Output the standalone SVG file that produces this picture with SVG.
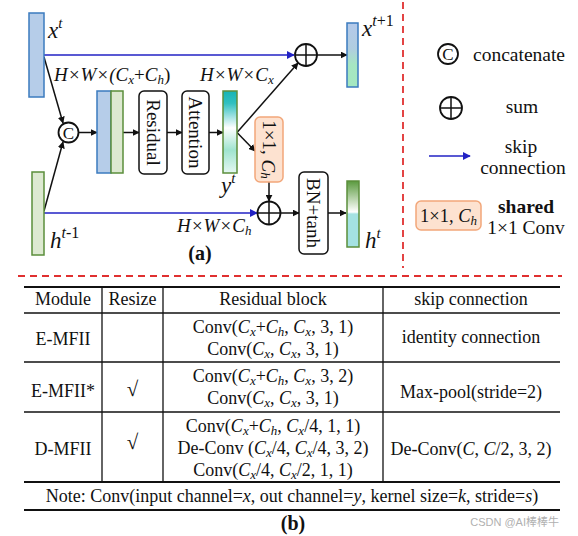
<svg xmlns="http://www.w3.org/2000/svg" width="578" height="536" viewBox="0 0 578 536" font-family="'Liberation Serif', 'DejaVu Serif', serif">
<style>
text{font-family:'Liberation Serif','DejaVu Serif',serif;fill:#111}
.i{font-style:italic}
.b{font-weight:bold}
.lab{font-size:23px;font-style:italic}
.dim{font-size:19px}
.box{font-size:19px}
.tb{font-size:18px}
.sub{font-size:13px}
.bluebar{fill:#b6cde9;stroke:#3b7bbf;stroke-width:1.5}
.greenbar{fill:#dde9d1;stroke:#5b8e3b;stroke-width:1.5}
.rbox{fill:#fff;stroke:#111;stroke-width:1.5}
.obox{fill:#fde2d0;stroke:#f2a77a;stroke-width:1.5}
.circ{fill:#fff;stroke:#111;stroke-width:1.8}
.ar{stroke:#111;stroke-width:1.5;fill:none;marker-end:url(#ah)}
.sk{stroke:#2222c4;stroke-width:1.5;fill:none;marker-end:url(#ahb)}
.red{stroke:#e03030;stroke-width:1.8;stroke-dasharray:7 5;fill:none}
.tl{stroke:#111;stroke-width:1.3;fill:none}
.tk{stroke:#111;stroke-width:2;fill:none}
</style>
<defs>
<marker id="ah" viewBox="0 0 10 10" refX="9" refY="5" markerWidth="7" markerHeight="7" markerUnits="userSpaceOnUse" orient="auto"><path d="M0,0L10,5L0,10z" fill="#111"/></marker>
<marker id="ahb" viewBox="0 0 10 10" refX="9" refY="5" markerWidth="8" markerHeight="8" markerUnits="userSpaceOnUse" orient="auto"><path d="M0,0L10,5L0,10z" fill="#2222c4"/></marker>
<linearGradient id="gy" x1="0" y1="0" x2="0" y2="1">
<stop offset="0" stop-color="#14b4b4"/><stop offset="0.15" stop-color="#30c0c0"/><stop offset="0.45" stop-color="#ffffff"/><stop offset="0.72" stop-color="#9fe4cf"/><stop offset="1" stop-color="#e4f7f2"/>
</linearGradient>
<linearGradient id="gx1" x1="0" y1="0" x2="0" y2="1">
<stop offset="0" stop-color="#b4c9ea"/><stop offset="0.4" stop-color="#b0cde0"/><stop offset="0.65" stop-color="#a6e6c2"/><stop offset="1" stop-color="#a4e8c0"/>
</linearGradient>
<linearGradient id="gh" x1="0" y1="0" x2="0" y2="1">
<stop offset="0" stop-color="#5a9a3e"/><stop offset="0.47" stop-color="#ffffff"/><stop offset="0.5" stop-color="#a4e2e2"/><stop offset="1" stop-color="#a4e2e2"/>
</linearGradient>
</defs>

<g id="connectors">
<line class="sk" x1="44" y1="55" x2="294" y2="55"/>
<line class="sk" x1="44" y1="213" x2="257" y2="213"/>
<line class="ar" x1="44" y1="57" x2="63" y2="123"/>
<line class="ar" x1="44" y1="211" x2="63" y2="142"/>
<line class="ar" x1="79" y1="132.5" x2="97" y2="132.5"/>
<line class="ar" x1="123" y1="132.5" x2="139" y2="132.5"/>
<line class="ar" x1="167" y1="132.5" x2="182" y2="132.5"/>
<line class="ar" x1="209" y1="132.5" x2="223" y2="132.5"/>
<line class="ar" x1="237" y1="132.5" x2="298" y2="63"/>
<line class="ar" x1="237" y1="132.5" x2="255" y2="151"/>
<line class="ar" x1="269" y1="182" x2="269" y2="201"/>
<line class="ar" x1="281" y1="213" x2="299" y2="213"/>
<line class="ar" x1="328" y1="213" x2="346" y2="213"/>
<line class="ar" x1="317" y1="55" x2="347" y2="55"/>
</g>

<g id="xt"><rect class="bluebar" x="29" y="13" width="15" height="84"/>
<text class="lab" x="48" y="38">x<tspan font-size="15" dy="-10">t</tspan></text></g>
<g id="ht1"><rect class="greenbar" x="32" y="172" width="12" height="83"/>
<text class="lab" x="50" y="248">h<tspan font-size="16" dy="-10">t</tspan><tspan font-size="16" font-style="normal">-1</tspan></text></g>
<g id="dims">
<text class="dim i" x="54" y="81">H×W×(C<tspan class="sub" dy="3">x</tspan><tspan dy="-3" font-style="normal">+</tspan>C<tspan class="sub" dy="3">h</tspan><tspan dy="-3" font-style="normal">)</tspan></text>
<text class="dim i" x="200" y="81">H×W×C<tspan class="sub" dy="3">x</tspan></text>
<text class="dim i" x="177" y="232">H×W×C<tspan class="sub" dy="3">h</tspan></text>
</g>
<g id="concat"><circle class="circ" cx="68.5" cy="132.5" r="10"/>
<text x="68.5" y="138.5" font-size="17" text-anchor="middle">C</text></g>
<g id="stack"><rect class="bluebar" x="97" y="91" width="14" height="82"/><rect class="greenbar" x="111" y="91" width="12" height="82"/></g>
<g id="residual"><rect class="rbox" x="139" y="91" width="28" height="83" rx="5"/>
<text class="box" transform="translate(153,132.5) rotate(90)" text-anchor="middle" dominant-baseline="central">Residual</text></g>
<g id="attention"><rect class="rbox" x="182" y="91" width="27" height="83" rx="5"/>
<text class="box" transform="translate(195.5,132.5) rotate(90)" text-anchor="middle" dominant-baseline="central">Attention</text></g>
<g id="yt"><rect x="223" y="91" width="14" height="82" fill="url(#gy)" stroke="#5b8e3b" stroke-width="1.5"/>
<text class="lab" x="221" y="193">y<tspan font-size="15" dy="-10">t</tspan></text></g>
<g id="conv11"><rect class="obox" x="255" y="117" width="28" height="65" rx="5"/>
<text class="box" transform="translate(269,149.5) rotate(90)" text-anchor="middle" dominant-baseline="central">1×1, <tspan font-style="italic">C</tspan><tspan class="sub i" dy="3">h</tspan></text></g>
<g id="sumTop"><circle class="circ" cx="306" cy="55" r="11"/><path d="M295,55H317M306,44V66" stroke="#111" stroke-width="1.5"/></g>
<g id="sumBot"><circle class="circ" cx="269" cy="213" r="11.5"/><path d="M257.5,213H280.5M269,201.5V224.5" stroke="#111" stroke-width="1.5"/></g>
<g id="bntanh"><rect class="rbox" x="299" y="172" width="29" height="82" rx="5"/>
<text class="box" transform="translate(313.5,213) rotate(90)" text-anchor="middle" dominant-baseline="central">BN+tanh</text></g>
<g id="xt1"><rect x="347" y="23" width="11" height="64" fill="url(#gx1)" stroke="#3b7bbf" stroke-width="1.5"/>
<text class="lab" x="362" y="36">x<tspan font-size="16" dy="-10">t</tspan><tspan font-size="16" font-style="normal">+1</tspan></text></g>
<g id="htout"><rect x="347" y="181" width="12" height="66" fill="url(#gh)" stroke="#5b8e3b" stroke-width="1.5"/>
<text class="lab" x="365" y="248">h<tspan font-size="15" dy="-10">t</tspan></text></g>
<text x="200" y="260" font-size="20" class="b" text-anchor="middle">(a)</text>

<g id="legend">
<circle class="circ" cx="448" cy="54" r="10"/><text x="448" y="60" font-size="17" text-anchor="middle">C</text>
<text x="473" y="61" font-size="19.5">concatenate</text>
<circle class="circ" cx="451" cy="108" r="11"/><path d="M440,108H462M451,97V119" stroke="#111" stroke-width="1.5"/>
<text x="522" y="113" font-size="19.5" text-anchor="middle">sum</text>
<line class="sk" x1="429" y1="156" x2="470" y2="156"/>
<text x="521" y="153" font-size="19.5" text-anchor="middle">skip</text>
<text x="523" y="174" font-size="19.5" text-anchor="middle">connection</text>
<rect class="obox" x="416" y="201" width="65" height="29" rx="5"/>
<text x="448.5" y="222" font-size="18.5" text-anchor="middle">1×1, <tspan font-style="italic">C</tspan><tspan class="sub i" dy="3">h</tspan></text>
<text x="526" y="213" font-size="19.5" class="b" text-anchor="middle">shared</text>
<text x="526" y="234" font-size="19.5" text-anchor="middle">1×1 Conv</text>
</g>

<g id="separators">
<line class="red" x1="403" y1="2" x2="403" y2="268"/>
<line class="red" x1="18" y1="276" x2="562" y2="276"/>
</g>

<g id="table">
<line class="tk" x1="24" y1="287" x2="560" y2="287"/>
<line class="tl" x1="24" y1="313" x2="560" y2="313"/>
<line class="tl" x1="24" y1="362" x2="560" y2="362"/>
<line class="tl" x1="24" y1="412" x2="560" y2="412"/>
<line class="tk" x1="24" y1="482" x2="560" y2="482"/>
<line class="tk" x1="24" y1="510" x2="560" y2="510"/>
<line class="tl" x1="102" y1="287" x2="102" y2="482"/>
<line class="tl" x1="163" y1="287" x2="163" y2="482"/>
<line class="tl" x1="383" y1="287" x2="383" y2="482"/>
<g class="tb">
<text class="tb" x="63" y="305" text-anchor="middle">Module</text>
<text class="tb" x="132.5" y="305" text-anchor="middle">Resize</text>
<text class="tb" x="273" y="305" text-anchor="middle">Residual block</text>
<text class="tb" x="471" y="305" text-anchor="middle">skip connection</text>

<text class="tb" x="63" y="345" text-anchor="middle">E-MFII</text>
<text class="tb" x="273" y="333" text-anchor="middle">Conv(<tspan class="i">C</tspan><tspan class="sub i" dy="3">x</tspan><tspan dy="-3">+</tspan><tspan class="i">C</tspan><tspan class="sub i" dy="3">h</tspan><tspan dy="-3">, </tspan><tspan class="i">C</tspan><tspan class="sub i" dy="3">x</tspan><tspan dy="-3">, 3, 1)</tspan></text>
<text class="tb" x="273" y="355" text-anchor="middle">Conv(<tspan class="i">C</tspan><tspan class="sub i" dy="3">x</tspan><tspan dy="-3">, </tspan><tspan class="i">C</tspan><tspan class="sub i" dy="3">x</tspan><tspan dy="-3">, 3, 1)</tspan></text>
<text class="tb" x="471" y="343" text-anchor="middle">identity connection</text>

<text class="tb" x="63" y="397" text-anchor="middle">E-MFII*</text>
<text x="132.5" y="396" font-size="21" text-anchor="middle">√</text>
<text class="tb" x="273" y="382" text-anchor="middle">Conv(<tspan class="i">C</tspan><tspan class="sub i" dy="3">x</tspan><tspan dy="-3">+</tspan><tspan class="i">C</tspan><tspan class="sub i" dy="3">h</tspan><tspan dy="-3">, </tspan><tspan class="i">C</tspan><tspan class="sub i" dy="3">x</tspan><tspan dy="-3">, 3, 2)</tspan></text>
<text class="tb" x="273" y="404" text-anchor="middle">Conv(<tspan class="i">C</tspan><tspan class="sub i" dy="3">x</tspan><tspan dy="-3">, </tspan><tspan class="i">C</tspan><tspan class="sub i" dy="3">x</tspan><tspan dy="-3">, 3, 1)</tspan></text>
<text class="tb" x="471" y="398" text-anchor="middle">Max-pool(stride=2)</text>

<text class="tb" x="63" y="455" text-anchor="middle">D-MFII</text>
<text x="132.5" y="449" font-size="21" text-anchor="middle">√</text>
<text class="tb" x="273" y="432" text-anchor="middle">Conv(<tspan class="i">C</tspan><tspan class="sub i" dy="3">x</tspan><tspan dy="-3">+</tspan><tspan class="i">C</tspan><tspan class="sub i" dy="3">h</tspan><tspan dy="-3">, </tspan><tspan class="i">C</tspan><tspan class="sub i" dy="3">x</tspan><tspan dy="-3">/4, 1, 1)</tspan></text>
<text class="tb" x="273" y="454" text-anchor="middle">De-Conv (<tspan class="i">C</tspan><tspan class="sub i" dy="3">x</tspan><tspan dy="-3">/4, </tspan><tspan class="i">C</tspan><tspan class="sub i" dy="3">x</tspan><tspan dy="-3">/4, 3, 2)</tspan></text>
<text class="tb" x="273" y="476" text-anchor="middle">Conv(<tspan class="i">C</tspan><tspan class="sub i" dy="3">x</tspan><tspan dy="-3">/4, </tspan><tspan class="i">C</tspan><tspan class="sub i" dy="3">x</tspan><tspan dy="-3">/2, 1, 1)</tspan></text>
<text class="tb" x="471" y="455" text-anchor="middle">De-Conv(<tspan class="i">C</tspan>, <tspan class="i">C</tspan>/2, 3, 2)</text>

<text class="tb" x="292" y="502" text-anchor="middle">Note: Conv(input channel=<tspan class="i">x</tspan>, out channel=<tspan class="i">y</tspan>, kernel size=<tspan class="i">k</tspan>, stride=<tspan class="i">s</tspan>)</text>
</g>
</g>
<text x="293" y="530" font-size="20" class="b" text-anchor="middle">(b)</text>
<text x="559" y="526" font-size="11" text-anchor="end" style="font-family:'Liberation Sans','Noto Sans CJK SC',sans-serif;fill:#b0b0b0">CSDN @AI棒棒牛</text>
</svg>
